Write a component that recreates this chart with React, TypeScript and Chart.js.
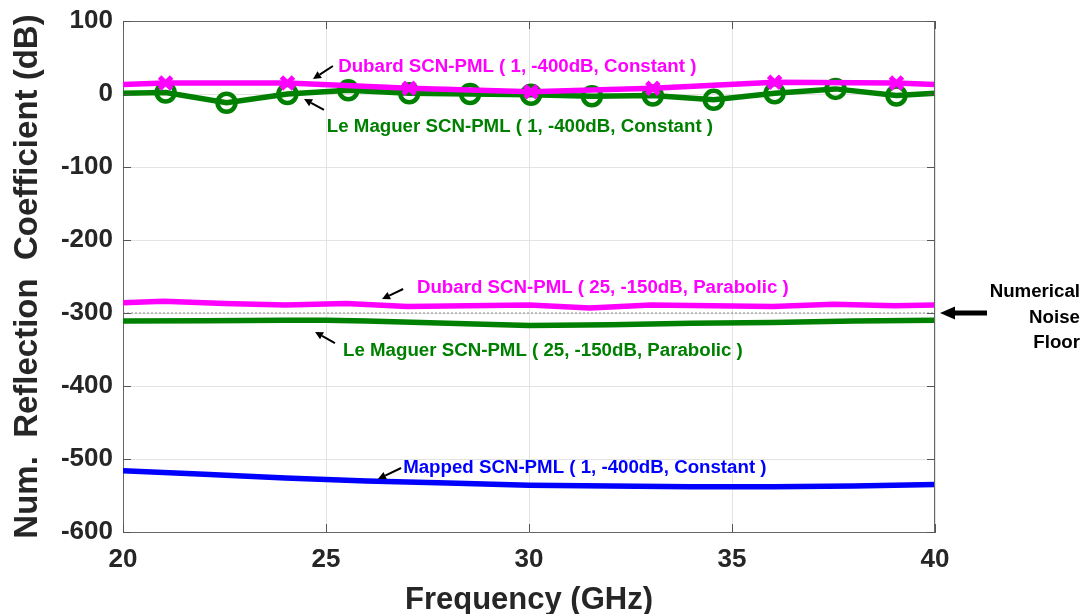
import React, { useEffect, useRef } from 'react';
import { Chart, registerables } from 'chart.js';

Chart.register(...registerables);

// ---- data ----
const freqDubardConst = [20, 21.05, 24.05, 27.05, 30.05, 33.05, 36.05, 39.05, 40];
const dubardConst = [13, 15, 15, 8, 3, 8, 16, 15, 13];
const dubardConstMarked = [false, true, true, true, true, true, true, true, false];

const freqMaguerConst = [20, 21.05, 22.55, 24.05, 25.55, 27.05, 28.55, 30.05, 31.55, 33.05, 34.55, 36.05, 37.55, 39.05, 40];
const maguerConst = [1, 2, -12, 0, 5, 1, 0, -1, -3, -2, -8, 1, 7, -2, 1];
const maguerConstMarked = [false, true, true, true, true, true, true, true, true, true, true, true, true, true, false];

const freqDubardPara = [20, 21, 22.5, 24, 25.5, 27, 28.5, 30, 31.5, 33, 34.5, 36, 37.5, 39, 40];
const dubardPara = [-286, -284, -287, -289, -287, -291, -290, -289, -293, -289, -290, -291, -288, -290, -289];

const freqMaguerPara = [20, 22, 24, 25, 26, 28, 30, 32, 34, 36, 38, 40];
const maguerPara = [-311, -310.5, -310, -310, -311, -314, -317, -316, -314, -313, -311, -310];

const freqMapped = [20, 22, 24, 26, 28, 30, 32, 34, 36, 38, 40];
const mapped = [-516, -521, -526, -530, -533, -536, -537, -538, -538, -537, -535];

const freqNoise = [20, 40];
const noiseFloor = [-300, -300];

const xTicks = [20, 25, 30, 35, 40];
const yTicks = [100, 0, -100, -200, -300, -400, -500, -600];

const labelDubardConst = 'Dubard SCN-PML ( 1, -400dB, Constant )';
const labelMaguerConst = 'Le Maguer SCN-PML ( 1, -400dB, Constant )';
const labelDubardPara = 'Dubard SCN-PML ( 25, -150dB, Parabolic )';
const labelMaguerPara = 'Le Maguer SCN-PML ( 25, -150dB, Parabolic )';
const labelMapped = 'Mapped SCN-PML ( 1, -400dB, Constant )';
const noiseLabelLines = ['Numerical', 'Noise', 'Floor'];

const xTitle = 'Frequency (GHz)';
const yTitle = 'Num.  Reflection  Coefficient (dB)';

// ---- styles ----
const MAGENTA = '#ff00ff';
const GREEN = '#008000';
const BLUE = '#0000ff';
const FONT = "'Liberation Sans', Arial, Helvetica, sans-serif";
const TEXT = '#262626';

const pts = (xs: number[], ys: number[]) => xs.map((x, i) => ({ x, y: ys[i] }));

// annotation anchors in data coordinates (GHz, dB)
const annotations = [
  { text: labelDubardConst, color: MAGENTA, tx: 25.3, ty: 30.1, tail: [25.17, 38.4], head: [24.68, 20.5] },
  { text: labelMaguerConst, color: GREEN, tx: 25.02, ty: -52.1, tail: [24.95, -21.9], head: [24.46, -6.8] },
  { text: labelDubardPara, color: MAGENTA, tx: 27.24, ty: -272.6, tail: [26.9, -267.1], head: [26.38, -280.8] },
  { text: labelMaguerPara, color: GREEN, tx: 25.42, ty: -358.9, tail: [25.22, -341.1], head: [24.73, -326.0] },
  { text: labelMapped, color: BLUE, tx: 26.9, ty: -519.2, tail: [26.85, -512.3], head: [26.28, -527.4] },
];

function arrow(ctx: CanvasRenderingContext2D, x0: number, y0: number, x1: number, y1: number, lw: number, hl: number, hw: number) {
  const ang = Math.atan2(y1 - y0, x1 - x0);
  const bx = x1 - hl * Math.cos(ang);
  const by = y1 - hl * Math.sin(ang);
  ctx.lineWidth = lw;
  ctx.beginPath();
  ctx.moveTo(x0, y0);
  ctx.lineTo(bx, by);
  ctx.stroke();
  ctx.beginPath();
  ctx.moveTo(x1, y1);
  ctx.lineTo(bx + hw * Math.sin(ang), by - hw * Math.cos(ang));
  ctx.lineTo(bx - hw * Math.sin(ang), by + hw * Math.cos(ang));
  ctx.closePath();
  ctx.fill();
}

const overlayPlugin = {
  id: 'overlay',
  afterDatasetsDraw(chart: any) {
    const { ctx, chartArea: a, scales } = chart;
    const xs = scales.x;
    const ys = scales.y;
    ctx.save();
    // box (top & right)
    ctx.strokeStyle = '#666666';
    ctx.lineWidth = 1;
    ctx.beginPath();
    ctx.moveTo(a.left, a.top + 0.5);
    ctx.lineTo(a.right - 0.5, a.top + 0.5);
    ctx.lineTo(a.right - 0.5, a.bottom);
    ctx.stroke();
    // inward ticks
    ctx.strokeStyle = '#555555';
    ctx.beginPath();
    xTicks.forEach((v) => {
      const px = Math.round(xs.getPixelForValue(v)) + 0.5;
      ctx.moveTo(px, a.bottom);
      ctx.lineTo(px, a.bottom - 8);
      ctx.moveTo(px, a.top);
      ctx.lineTo(px, a.top + 8);
    });
    yTicks.forEach((v) => {
      const py = Math.round(ys.getPixelForValue(v)) + 0.5;
      ctx.moveTo(a.left, py);
      ctx.lineTo(a.left + 8, py);
      ctx.moveTo(a.right, py);
      ctx.lineTo(a.right - 8, py);
    });
    ctx.stroke();

    // annotations
    ctx.font = `bold 18.7px ${FONT}`;
    ctx.textAlign = 'left';
    ctx.textBaseline = 'alphabetic';
    annotations.forEach((an) => {
      ctx.fillStyle = an.color;
      ctx.fillText(an.text, xs.getPixelForValue(an.tx), ys.getPixelForValue(an.ty));
      ctx.fillStyle = '#000';
      ctx.strokeStyle = '#000';
      arrow(
        ctx,
        xs.getPixelForValue(an.tail[0]), ys.getPixelForValue(an.tail[1]),
        xs.getPixelForValue(an.head[0]), ys.getPixelForValue(an.head[1]),
        2, 8, 4
      );
    });

    // noise floor label + arrow (outside right)
    const yNoise = ys.getPixelForValue(noiseFloor[0]);
    ctx.fillStyle = '#000';
    ctx.strokeStyle = '#000';
    ctx.textAlign = 'right';
    const rx = a.right + 145;
    noiseLabelLines.forEach((t, i) => {
      ctx.fillText(t, rx, yNoise - 16 + i * 25.5);
    });
    arrow(ctx, a.right + 52, yNoise, a.right + 5, yNoise, 5, 15, 6.5);
    ctx.restore();
  },
};

export default function App() {
  const ref = useRef<HTMLCanvasElement | null>(null);
  useEffect(() => {
    if (!ref.current) return;
    const chart = new Chart(ref.current, {
      type: 'line',
      data: {
        datasets: [
          {
            label: labelDubardConst,
            data: pts(freqDubardConst, dubardConst),
            borderColor: MAGENTA,
            borderWidth: 5.5,
            pointStyle: 'crossRot',
            pointRadius: dubardConstMarked.map((m) => (m ? 8.5 : 0)),
            pointBorderWidth: 5,
            pointBorderColor: MAGENTA,
            pointBackgroundColor: MAGENTA,
            tension: 0,
          },
          {
            label: labelMaguerConst,
            data: pts(freqMaguerConst, maguerConst),
            borderColor: GREEN,
            borderWidth: 5.5,
            pointStyle: 'circle',
            pointRadius: maguerConstMarked.map((m) => (m ? 9 : 0)),
            pointBorderWidth: 4.5,
            pointBorderColor: GREEN,
            pointBackgroundColor: 'rgba(0,0,0,0)',
            tension: 0,
          },
          {
            label: labelDubardPara,
            data: pts(freqDubardPara, dubardPara),
            borderColor: MAGENTA,
            borderWidth: 5.5,
            pointRadius: 0,
            tension: 0,
          },
          {
            label: labelMaguerPara,
            data: pts(freqMaguerPara, maguerPara),
            borderColor: GREEN,
            borderWidth: 5.5,
            pointRadius: 0,
            tension: 0,
          },
          {
            label: labelMapped,
            data: pts(freqMapped, mapped),
            borderColor: BLUE,
            borderWidth: 5.5,
            pointRadius: 0,
            tension: 0,
          },
          {
            label: 'Numerical Noise Floor',
            data: pts(freqNoise, noiseFloor),
            borderColor: '#8a8a8a',
            borderWidth: 1,
            borderDash: [2, 2],
            pointRadius: 0,
            tension: 0,
          },
        ],
      },
      options: {
        responsive: false,
        animation: false,
        layout: { padding: { left: 0, top: 21, right: 156, bottom: 0 } },
        plugins: {
          legend: { display: false },
          tooltip: { enabled: false },
        },
        scales: {
          x: {
            type: 'linear',
            min: 20,
            max: 40,
            afterBuildTicks: (s: any) => {
              s.ticks = xTicks.map((v) => ({ value: v }));
            },
            afterFit: (s: any) => {
              s.height = 82;
              s.paddingLeft = 0;
              s.paddingRight = 0;
            },
            grid: { color: '#e3e3e3', lineWidth: 1, drawTicks: false },
            border: { display: true, color: '#666666', width: 1 },
            ticks: {
              font: { family: FONT, size: 26, weight: 'bold' },
              color: TEXT,
              padding: 12,
              maxRotation: 0,
              callback: (v: any) => String(v),
            },
            title: {
              display: true,
              text: xTitle,
              color: TEXT,
              font: { family: FONT, size: 31, weight: 'bold' },
              padding: { top: 0, bottom: -5 },
            },
          },
          y: {
            type: 'linear',
            min: -600,
            max: 100,
            afterBuildTicks: (s: any) => {
              s.ticks = yTicks.map((v) => ({ value: v }));
            },
            afterFit: (s: any) => {
              s.width = 123;
              s.paddingTop = 0;
              s.paddingBottom = 0;
            },
            grid: { color: '#e3e3e3', lineWidth: 1, drawTicks: false },
            border: { display: true, color: '#666666', width: 1 },
            ticks: {
              font: { family: FONT, size: 26, weight: 'bold' },
              color: TEXT,
              padding: 10,
              callback: (v: any) => String(v),
            },
            title: {
              display: true,
              text: yTitle,
              color: TEXT,
              font: { family: FONT, size: 33, weight: 'bold' },
              padding: { top: 8, bottom: 0 },
            },
          },
        },
      },
      plugins: [overlayPlugin],
    } as any);
    return () => chart.destroy();
  }, []);

  return (
    <div style={{ position: 'fixed', left: 0, top: 0, width: 1091, height: 614, background: '#fff' }}>
      <canvas ref={ref} width={1091} height={614} style={{ display: 'block' }} />
    </div>
  );
}
